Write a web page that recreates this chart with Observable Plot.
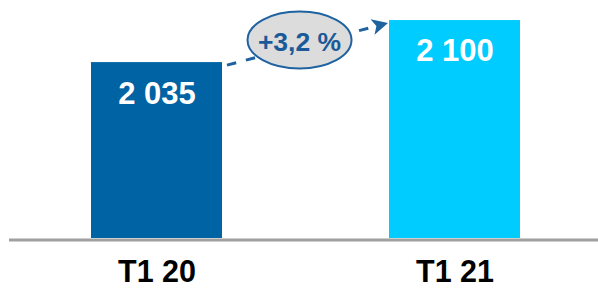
<!DOCTYPE html>
<html>
<head>
<meta charset="utf-8">
<script src="https://cdn.jsdelivr.net/npm/d3@7"></script>
<script src="https://cdn.jsdelivr.net/npm/@observablehq/plot@0.6"></script>
<style>
  html, body { margin: 0; padding: 0; background: #fff; }
  svg { display: block; }
</style>
</head>
<body>
<div id="chart"></div>
<script>
const categories = ["T1 20", "T1 21"];
const values = [2035, 2100];
const barColors = ["#0063A3", "#00CCFF"];
const yDomain = [1763, 2131];

const data = categories.map((c, i) => ({cat: c, value: values[i]}));
const fr = d3.formatLocale({decimal: ",", thousands: "\u00a0", grouping: [3], currency: ["", " €"]});
const fmtInt = fr.format(",d");
const fmtPct = fr.format("+.1f");
const growth = (values[1] / values[0] - 1) * 100;

const plot = Plot.plot({
  width: 598,
  height: 289,
  marginLeft: 9,
  marginRight: 0,
  marginTop: 0,
  marginBottom: 51,
  style: {fontFamily: "Arial, 'Liberation Sans', sans-serif", color: "black", background: "white"},
  x: {domain: categories, paddingInner: 0.56, paddingOuter: 0.268, align: 0.513, label: null},
  y: {domain: yDomain, axis: null},
  color: {domain: categories, range: barColors},
  marks: [
    Plot.barY(data, {x: "cat", y1: yDomain[0], y2: "value", fill: "cat"}),
    Plot.text(data, {x: "cat", y: "value", text: d => fmtInt(d.value), dy: 31, fill: "white", fontSize: 31, fontWeight: "bold"}),
    Plot.ruleY([yDomain[0]], {stroke: "#A0A0A0", strokeWidth: 3, dy: 1.5}),
    Plot.axisX({tickSize: 0, tickPadding: 22, fontSize: 30.5, fontWeight: "bold", fill: "black", label: null})
  ]
});

document.getElementById("chart").appendChild(plot);

// Annotation: growth arrow + ellipse, positioned through the plot's scales
const xs = plot.scale("x");
const ys = plot.scale("y");
const bw = xs.bandwidth;
const x1 = xs.apply(categories[0]) + bw + 5;
const y1 = ys.apply(values[0]) + 3;
const xt = xs.apply(categories[1]) - 1;
const yt = ys.apply(values[1]) + 3;
const ang = Math.atan2(yt - y1, xt - x1);
const headLen = 16, headHalf = 8;
const bx = xt - headLen * Math.cos(ang), by = yt - headLen * Math.sin(ang);
const nx = -Math.sin(ang), ny = Math.cos(ang);

const svg = d3.select(plot);
const g = svg.append("g");
const arrowColor = "#1F62A0";
g.append("line")
  .attr("x1", x1).attr("y1", y1).attr("x2", bx + 2 * Math.cos(ang)).attr("y2", by + 2 * Math.sin(ang))
  .attr("stroke", arrowColor).attr("stroke-width", 3).attr("stroke-dasharray", "9.5,10");
const notch = 4;
g.append("path")
  .attr("d", `M${xt},${yt} L${bx + nx * headHalf},${by + ny * headHalf} L${bx + notch * Math.cos(ang)},${by + notch * Math.sin(ang)} L${bx - nx * headHalf},${by - ny * headHalf} Z`)
  .attr("fill", arrowColor);

const cx = (xs.apply(categories[0]) + bw + xs.apply(categories[1])) / 2 - 6;
const cy = ys.apply(values[1]) + 20;
g.append("ellipse")
  .attr("cx", cx).attr("cy", cy).attr("rx", 52).attr("ry", 28.5)
  .attr("fill", "#DCDCDC").attr("stroke", "#1F62A0").attr("stroke-width", 2);
g.append("text")
  .attr("x", cx).attr("y", cy + 1.4).attr("dy", "0.35em")
  .attr("text-anchor", "middle")
  .attr("font-size", 26.5).attr("font-weight", "bold")
  .attr("fill", "#1A5A98")
  .text(fmtPct(growth) + " %");
</script>
</body>
</html>
